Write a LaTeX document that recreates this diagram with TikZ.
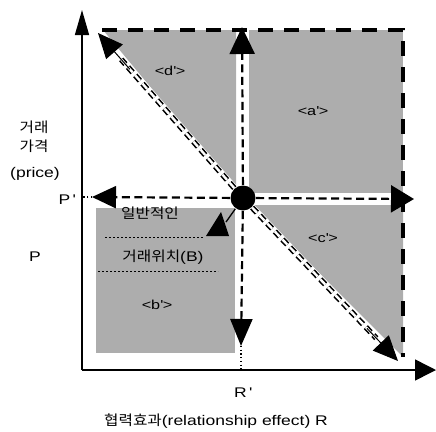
\documentclass[tikz,border=0pt]{standalone}
\usepackage{fontspec}
\setmainfont{Liberation Sans}[FakeStretch=1.25]
\newfontfamily\kr{Noto Sans CJK KR}[FakeStretch=1.12]
\usetikzlibrary{arrows.meta,calc}
\newcommand{\qs}{\textquotesingle}
\begin{document}
\begin{tikzpicture}[x=1pt,y=-1pt,
  shade/.style={fill=black!32},
  lbl/.style={inner sep=0pt,font=\fontsize{14}{16}\selectfont},
  reg/.style={inner sep=0pt,font=\fontsize{13}{15}\selectfont},
  axisline/.style={line width=1.5pt},
  border/.style={line width=3.5pt,dash pattern=on 15pt off 11pt},
  dsh/.style={line width=2.2pt,dash pattern=on 8pt off 4.5pt},
  dbl/.style={line width=1.6pt,double=white,double distance=2.4pt,dash pattern=on 7pt off 4pt},
  whiteband/.style={white,line width=7pt},
  dots/.style={line width=1.2pt,dash pattern=on 1.2pt off 2.5pt},
  sep/.style={line width=0.9pt,dash pattern=on 2pt off 2pt}
]
\useasboundingbox (0,0) rectangle (436,431);

% shaded regions
\fill[shade] (103,30) -- (236,30) -- (236,190) -- cycle;
\fill[shade] (249,30) rectangle (403,193);
\fill[shade] (251,205) -- (403,205) -- (403,357) -- cycle;
\fill[shade] (96,208) rectangle (235,353);

% coordinates
\coordinate (O) at (82,370);
\coordinate (Ytop) at (82,10);
\coordinate (Xend) at (436,370);
\coordinate (U) at (242,27);
\coordinate (D) at (241,346);
\coordinate (L) at (92,197);
\coordinate (R) at (414,199);
\coordinate (TL) at (98,33);
\coordinate (BR) at (398,361);
\coordinate (Pax) at (82,197);
\coordinate (Rax) at (241,370);
\coordinate (tri) at (226,222);
\node[circle,minimum size=26pt,inner sep=0pt] (C) at (243,198) {};

% axes
\draw[axisline,-{Triangle[length=25pt,width=14pt]}] (O) -- (Ytop);
\draw[axisline,-{Triangle[length=21pt,width=21pt]}] (O) -- (Xend);

% white bands under diagonals
\draw[whiteband] (C.center) -- (TL);
\draw[whiteband] (C.center) -- (BR);

% border
\draw[border] (102,30) -- (403,30) -- (403,357);

% straight dashed arrows
\draw[dsh,-{Triangle[length=27pt,width=25pt]}] (C) -- (U);
\draw[dsh,-{Triangle[length=27pt,width=22pt]}] (C) -- (D);
\draw[dsh,-{Triangle[length=24pt,width=22pt]}] (C) -- (L);
\draw[dsh,-{Triangle[length=23pt,width=27pt]}] (C) -- (R);
\draw[dots] (L) -- (Pax);
\draw[dots] (D) -- (Rax);

% diagonal double dashed arrows
\draw[dbl] (C) -- ($(C)!0.84!(TL)$);
\draw[line width=1pt,-{Triangle[length=25pt,width=22pt]}] ($(C)!0.78!(TL)$) -- (TL);
\draw[dbl] (C) -- ($(C)!0.86!(BR)$);
\draw[line width=1pt,-{Triangle[length=25pt,width=22pt]}] ($(C)!0.8!(BR)$) -- (BR);

% small callout
\draw[line width=1.3pt] (C) -- (tri);
\fill (221,212) -- (206,236) -- (229,236) -- cycle;

% central point
\fill (C.center) circle (12.5pt);

% separators
\draw[sep] (105,237) -- (203,237);
\draw[sep] (98,271) -- (218,271);

% region labels
\node[reg] (d) at (170,71) {<d\qs>};
\node[reg] (a) at (313,111) {<a\qs>};
\node[reg] (c) at (323,238) {<c\qs>};
\node[reg] (b) at (157,305) {<b\qs>};
\node[lbl] (gen) at (150,213) {\kr 일반적인};
\node[lbl] (pos) at (163,257) {{\kr 거래위치}(B)};

% axis labels
\node[lbl] (y1) at (34,127) {\kr 거래};
\node[lbl] (y2) at (34,146) {\kr 가격};
\node[lbl] (y3) at (35,174) {(price)};
\node[lbl] (Pp) at (67,200) {P\,\qs};
\node[lbl] (P) at (35,257) {P};
\node[lbl] (Rp) at (243,393) {R\,\qs};
\node[lbl] (xl) at (216,421) {{\kr 협력효과}(relationship effect) R};
\end{tikzpicture}
\end{document}
